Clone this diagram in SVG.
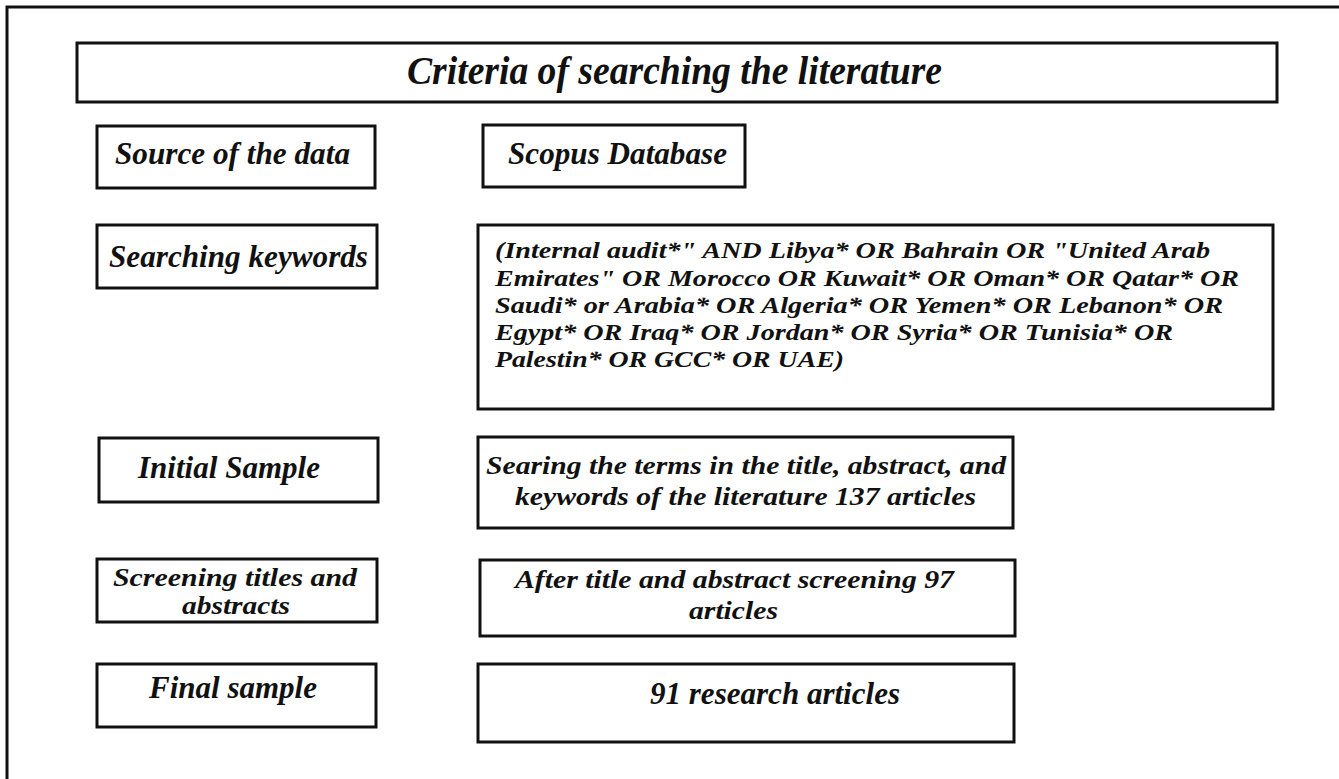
<svg xmlns="http://www.w3.org/2000/svg" width="1339" height="779" viewBox="0 0 1339 779">
<style>
.box{fill:#fff;stroke:#111;stroke-width:3}
.t{font-family:'Liberation Serif','Times New Roman',Times,serif;font-weight:700;font-style:italic;fill:#111}
.lg{font-size:40px}
.md{font-size:31px}
.two{font-size:26px}
.sm{font-size:24px}
</style>
<rect x="0" y="0" width="1339" height="779" fill="#fff"/>
<rect x="7" y="7" width="1400" height="820" fill="none" stroke="#111" stroke-width="3"/>
<g id="title">
<rect class="box" x="77" y="43" width="1200" height="59"/>
<text class="t lg" x="407" y="84" textLength="535" lengthAdjust="spacingAndGlyphs">Criteria of searching the literature</text>
</g>
<g id="source-label">
<rect class="box" x="97" y="126" width="278" height="62"/>
<text class="t md" x="115" y="164" textLength="235" lengthAdjust="spacingAndGlyphs">Source of the data</text>
</g>
<g id="source-value">
<rect class="box" x="483" y="125" width="262" height="62"/>
<text class="t md" x="508" y="164" textLength="219" lengthAdjust="spacingAndGlyphs">Scopus Database</text>
</g>
<g id="keywords-label">
<rect class="box" x="97" y="225" width="280" height="63"/>
<text class="t md" x="109" y="267" textLength="259" lengthAdjust="spacingAndGlyphs">Searching keywords</text>
</g>
<g id="keywords-value">
<rect class="box" x="478" y="225" width="795" height="184"/>
<text class="t sm" x="495" y="258" textLength="715" lengthAdjust="spacingAndGlyphs">(Internal audit*" AND Libya* OR Bahrain OR "United Arab</text>
<text class="t sm" x="495" y="285.5" textLength="744" lengthAdjust="spacingAndGlyphs">Emirates" OR Morocco OR Kuwait* OR Oman* OR Qatar* OR</text>
<text class="t sm" x="495" y="313" textLength="728" lengthAdjust="spacingAndGlyphs">Saudi* or Arabia* OR Algeria* OR Yemen* OR Lebanon* OR</text>
<text class="t sm" x="495" y="340" textLength="678" lengthAdjust="spacingAndGlyphs">Egypt* OR Iraq* OR Jordan* OR Syria* OR Tunisia* OR</text>
<text class="t sm" x="495" y="367" textLength="349" lengthAdjust="spacingAndGlyphs">Palestin* OR GCC* OR UAE)</text>
</g>
<g id="initial-label">
<rect class="box" x="99" y="438" width="279" height="64"/>
<text class="t md" x="138" y="478" textLength="182" lengthAdjust="spacingAndGlyphs">Initial Sample</text>
</g>
<g id="initial-value">
<rect class="box" x="478" y="437" width="535" height="91"/>
<text class="t two" x="486" y="474" textLength="520" lengthAdjust="spacingAndGlyphs">Searing the terms in the title, abstract, and</text>
<text class="t two" x="515" y="505" textLength="461" lengthAdjust="spacingAndGlyphs">keywords of the literature 137 articles</text>
</g>
<g id="screening-label">
<rect class="box" x="97" y="559" width="280" height="63"/>
<text class="t two" x="113" y="586" textLength="244" lengthAdjust="spacingAndGlyphs">Screening titles and</text>
<text class="t two" x="182" y="614" textLength="108" lengthAdjust="spacingAndGlyphs">abstracts</text>
</g>
<g id="screening-value">
<rect class="box" x="480" y="560" width="535" height="76"/>
<text class="t two" x="515" y="588" textLength="439" lengthAdjust="spacingAndGlyphs">After title and abstract screening 97</text>
<text class="t two" x="689" y="619" textLength="89" lengthAdjust="spacingAndGlyphs">articles</text>
</g>
<g id="final-label">
<rect class="box" x="97" y="664" width="279" height="63"/>
<text class="t md" x="149" y="698" textLength="168" lengthAdjust="spacingAndGlyphs">Final sample</text>
</g>
<g id="final-value">
<rect class="box" x="478" y="664" width="536" height="78"/>
<text class="t md" x="650" y="704" textLength="250" lengthAdjust="spacingAndGlyphs">91 research articles</text>
</g>
<g id="connectors"></g>
</svg>
